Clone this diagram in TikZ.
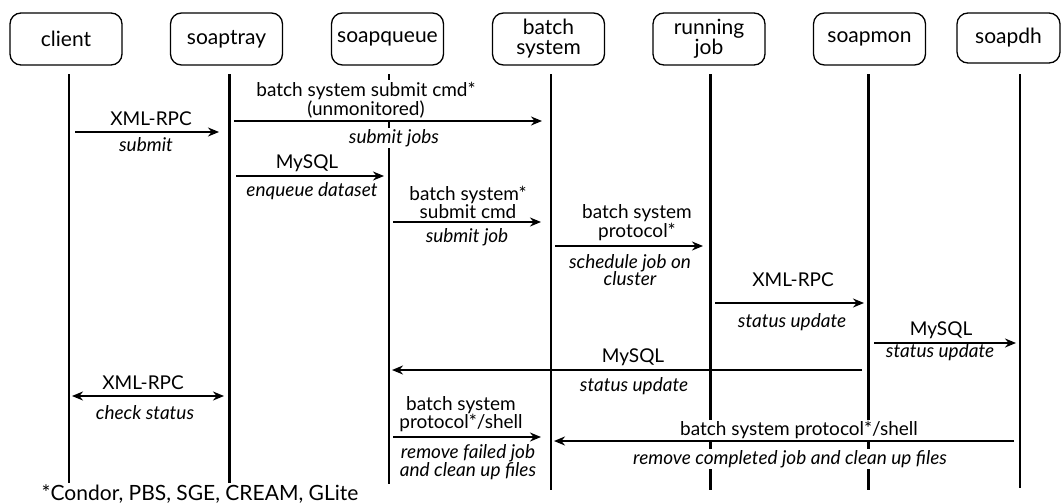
\documentclass[tikz,border=0pt]{standalone}
\usepackage{fontspec}
\setmainfont{Lato}
\usetikzlibrary{arrows.meta}
\newcommand\fsz{\fontsize{19}{17.5}\selectfont}
\newcommand\bsz{\fontsize{21}{20}\selectfont}
\begin{document}
\begin{tikzpicture}[x=1pt,y=-1pt,
  actor/.style={draw, line width=1.3pt, rounded corners=11pt, minimum height=52pt, minimum width=112pt, align=center, font=\bsz, inner sep=2pt},
  life/.style={line width=2.7pt},
  msg/.style={line width=2pt, -{Stealth[length=11pt,width=9pt]}},
  lbl/.style={font=\fsz, align=center, inner sep=1.5pt, fill=white},
  desc/.style={lbl, font=\fsz\itshape}]
\useasboundingbox (0,0) rectangle (1062,503);
% actors
\node[actor] (client) at (66,39) {client};
\node[actor] (tray) at (226.5,39) {soaptray};
\node[actor] (queue) at (387.5,39) {soapqueue};
\node[actor] (batch) at (548.5,39) {batch\\system};
\node[actor] (run) at (709,39) {running\\job};
\node[actor] (mon) at (869.5,39) {soapmon};
\node[actor, minimum width=103pt, minimum height=50pt] (dh) at (1008.5,38) {soapdh};
% lifelines
\foreach \n/\x/\b in {client/69/484, tray/229.5/484, queue/389/484, batch/551/490, run/710.5/490, mon/868.5/490, dh/1020/488}{
  \coordinate (\n-t) at (\x,74);
  \coordinate (\n-b) at (\x,\b);
  \draw[life] (\n-t) -- (\n-b);
}
% labels
\node[lbl] (l1a) at (151,119) {XML-RPC};
\node[desc] (l1b) at (146,145) {submit};
\node[lbl] (l2a) at (366,100) {batch system submit cmd*\\(unmonitored)};
\node[desc] (l2b) at (394,138) {submit jobs};
\node[lbl] (l3a) at (307,163) {MySQL};
\node[desc] (l3b) at (312,191) {enqueue dataset};
\node[lbl] (l4a) at (468,202.5) {batch system*\\submit cmd};
\node[desc] (l4b) at (467,237) {submit job};
\node[lbl] (l5a) at (637,222.5) {batch system\\protocol*};
\node[desc] (l5b) at (630,270) {schedule job on\\cluster};
\node[lbl] (l6a) at (793,279.5) {XML-RPC};
\node[desc] (l6b) at (792,322) {status update};
\node[lbl] (l7a) at (941,330.5) {MySQL};
\node[desc] (l7b) at (940,352) {status update};
\node[lbl] (l8a) at (633,357) {MySQL};
\node[desc] (l8b) at (634,386) {status update};
\node[lbl] (l9a) at (143,383) {XML-RPC};
\node[desc] (l9b) at (145,413) {check status};
\node[lbl] (l10a) at (461,414) {batch system\\protocol*/shell};
\node[desc] (l10b) at (468,462) {remove failed job\\and clean up files};
\node[lbl] (l11a) at (799,430) {batch system protocol*/shell};
\node[desc] (l11b) at (790,459) {remove completed job and clean up files};
\node[lbl, font=\fontsize{21}{22}\selectfont] (foot) at (200,494) {*Condor, PBS, SGE, CREAM, GLite};
% message end points
\coordinate (m1s) at (75,132);   \coordinate (m1e) at (219,132);
\coordinate (m2s) at (234,121);  \coordinate (m2e) at (542,121);
\coordinate (m3s) at (236,176);  \coordinate (m3e) at (384,176);
\coordinate (m4s) at (393,222);  \coordinate (m4e) at (541,222);
\coordinate (m5s) at (555,246);  \coordinate (m5e) at (703,246);
\coordinate (m6s) at (715,303);  \coordinate (m6e) at (864,303);
\coordinate (m7s) at (874,343);  \coordinate (m7e) at (1016,343);
\coordinate (m8s) at (862,370);  \coordinate (m8e) at (392,370);
\coordinate (m9s) at (72,396);   \coordinate (m9e) at (224,396);
\coordinate (m10s) at (393,437); \coordinate (m10e) at (541,437);
\coordinate (m11s) at (1014,441); \coordinate (m11e) at (554,441);
\foreach \m in {m1,m2,m3,m4,m5,m6,m7,m8,m10,m11}{
  \draw[msg] (\m s) -- (\m e);
}
\draw[msg, {Stealth[length=11pt,width=9pt]}-{Stealth[length=11pt,width=9pt]}] (m9s) -- (m9e);
\end{tikzpicture}
\end{document}
